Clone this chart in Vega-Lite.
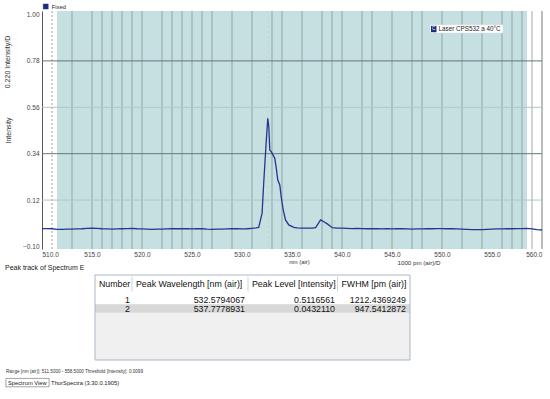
{
  "$schema": "https://vega.github.io/schema/vega-lite/v6.json",
  "width": 500,
  "height": 238,
  "autosize": {"type": "none"},
  "padding": {"left": 42, "top": 11, "right": 8, "bottom": 150},
  "background": "#ffffff",
  "config": {"view": {"stroke": null}, "font": "Liberation Sans"},
  "datasets": {
    "spectrum": [
      {"nm": 510.0, "i": -0.015}, {"nm": 510.5, "i": -0.015}, {"nm": 511.0, "i": -0.016}, {"nm": 511.5, "i": -0.019},
      {"nm": 512.0, "i": -0.019}, {"nm": 512.5, "i": -0.018}, {"nm": 513.0, "i": -0.018}, {"nm": 513.5, "i": -0.017},
      {"nm": 514.0, "i": -0.016}, {"nm": 514.5, "i": -0.014}, {"nm": 515.0, "i": -0.013}, {"nm": 515.5, "i": -0.014},
      {"nm": 516.0, "i": -0.016}, {"nm": 516.5, "i": -0.017}, {"nm": 517.0, "i": -0.018}, {"nm": 517.5, "i": -0.017},
      {"nm": 518.0, "i": -0.016}, {"nm": 518.5, "i": -0.015}, {"nm": 519.0, "i": -0.014}, {"nm": 519.5, "i": -0.016},
      {"nm": 520.0, "i": -0.017}, {"nm": 520.5, "i": -0.018}, {"nm": 521.0, "i": -0.019}, {"nm": 521.5, "i": -0.018},
      {"nm": 522.0, "i": -0.018}, {"nm": 522.5, "i": -0.017}, {"nm": 523.0, "i": -0.016}, {"nm": 523.5, "i": -0.016},
      {"nm": 524.0, "i": -0.015}, {"nm": 524.5, "i": -0.016}, {"nm": 525.0, "i": -0.017}, {"nm": 525.5, "i": -0.016},
      {"nm": 526.0, "i": -0.016}, {"nm": 526.5, "i": -0.018}, {"nm": 527.0, "i": -0.019}, {"nm": 527.5, "i": -0.018},
      {"nm": 528.0, "i": -0.018}, {"nm": 528.5, "i": -0.017}, {"nm": 529.0, "i": -0.016}, {"nm": 529.5, "i": -0.016},
      {"nm": 530.0, "i": -0.017}, {"nm": 530.5, "i": -0.016}, {"nm": 531.0, "i": -0.014}, {"nm": 531.4, "i": -0.012},
      {"nm": 531.67, "i": -0.010}, {"nm": 532.01, "i": 0.058}, {"nm": 532.17, "i": 0.200}, {"nm": 532.41, "i": 0.389},
      {"nm": 532.58, "i": 0.508}, {"nm": 532.68, "i": 0.468}, {"nm": 532.78, "i": 0.358}, {"nm": 532.92, "i": 0.350},
      {"nm": 533.19, "i": 0.326}, {"nm": 533.28, "i": 0.318}, {"nm": 533.45, "i": 0.263}, {"nm": 533.58, "i": 0.215},
      {"nm": 533.78, "i": 0.192}, {"nm": 533.92, "i": 0.136}, {"nm": 534.12, "i": 0.073}, {"nm": 534.35, "i": 0.026},
      {"nm": 534.68, "i": 0.002}, {"nm": 535.18, "i": -0.009}, {"nm": 535.5, "i": -0.012}, {"nm": 536.0, "i": -0.013},
      {"nm": 536.5, "i": -0.013}, {"nm": 537.0, "i": -0.013}, {"nm": 537.36, "i": -0.011}, {"nm": 537.86, "i": 0.026},
      {"nm": 538.19, "i": 0.017}, {"nm": 538.53, "i": 0.007}, {"nm": 539.03, "i": -0.011}, {"nm": 539.5, "i": -0.013},
      {"nm": 540.0, "i": -0.013}, {"nm": 540.5, "i": -0.014}, {"nm": 541.0, "i": -0.015}, {"nm": 541.5, "i": -0.014},
      {"nm": 542.0, "i": -0.015}, {"nm": 542.5, "i": -0.016}, {"nm": 543.0, "i": -0.015}, {"nm": 543.5, "i": -0.016},
      {"nm": 544.0, "i": -0.017}, {"nm": 544.5, "i": -0.016}, {"nm": 545.0, "i": -0.017}, {"nm": 545.5, "i": -0.016},
      {"nm": 546.0, "i": -0.016}, {"nm": 546.5, "i": -0.017}, {"nm": 547.0, "i": -0.018}, {"nm": 547.5, "i": -0.017},
      {"nm": 548.0, "i": -0.017}, {"nm": 548.5, "i": -0.016}, {"nm": 549.0, "i": -0.016}, {"nm": 549.5, "i": -0.015},
      {"nm": 550.0, "i": -0.015}, {"nm": 550.5, "i": -0.016}, {"nm": 551.0, "i": -0.016}, {"nm": 551.5, "i": -0.017},
      {"nm": 552.0, "i": -0.018}, {"nm": 552.5, "i": -0.019}, {"nm": 553.0, "i": -0.020}, {"nm": 553.5, "i": -0.020},
      {"nm": 554.0, "i": -0.020}, {"nm": 554.5, "i": -0.019}, {"nm": 555.0, "i": -0.018}, {"nm": 555.5, "i": -0.017},
      {"nm": 556.0, "i": -0.017}, {"nm": 556.5, "i": -0.016}, {"nm": 557.0, "i": -0.016}, {"nm": 557.5, "i": -0.015},
      {"nm": 558.0, "i": -0.015}, {"nm": 558.5, "i": -0.014}, {"nm": 559.0, "i": -0.017}, {"nm": 559.5, "i": -0.020},
      {"nm": 560.0, "i": -0.022}
    ],
    "grid": [
      {"nm": 513}, {"nm": 515}, {"nm": 516}, {"nm": 517}, {"nm": 518}, {"nm": 519}, {"nm": 520}, {"nm": 522},
      {"nm": 523}, {"nm": 524}, {"nm": 525}, {"nm": 526}, {"nm": 527}, {"nm": 529}, {"nm": 531}, {"nm": 533},
      {"nm": 534}, {"nm": 536}, {"nm": 538}, {"nm": 539}, {"nm": 540}, {"nm": 542}, {"nm": 543}, {"nm": 545},
      {"nm": 547}, {"nm": 548}, {"nm": 550}, {"nm": 552}, {"nm": 554}, {"nm": 556}, {"nm": 557}, {"nm": 558}
    ],
    "hmajor": [{"i": 0.78}, {"i": 0.34}],
    "hminor": [{"i": 0.56}, {"i": 0.12}],
    "head": [
      {"c": 0, "t": "Number"},
      {"c": 1, "t": "Peak Wavelength [nm (air)]"},
      {"c": 2, "t": "Peak Level [Intensity]"},
      {"c": 3, "t": "FWHM [pm (air)]"}
    ],
    "cells": [
      {"r": 1, "c": 0, "t": "1"}, {"r": 1, "c": 1, "t": "532.5794067"}, {"r": 1, "c": 2, "t": "0.5116561"}, {"r": 1, "c": 3, "t": "1212.4369249"},
      {"r": 2, "c": 0, "t": "2"}, {"r": 2, "c": 1, "t": "537.7778931"}, {"r": 2, "c": 2, "t": "0.0432110"}, {"r": 2, "c": 3, "t": "947.5412872"}
    ]
  },
  "layer": [
    {
      "layer": [
        {
          "data": {"values": [{"from": 511.5, "to": 558.5}]},
          "mark": {"type": "rect", "fill": "#c6dfe1"},
          "encoding": {"x": {"field": "from", "type": "quantitative"}, "x2": {"field": "to"}}
        },
        {
          "data": {"name": "grid"},
          "mark": {"type": "rule", "stroke": "#8ca6a7", "strokeWidth": 1},
          "encoding": {"x": {"field": "nm", "type": "quantitative"}}
        },
        {
          "data": {"values": [{"nm": 511}]},
          "mark": {"type": "rule", "stroke": "#9a9a9a", "strokeDash": [2, 2]},
          "encoding": {"x": {"field": "nm", "type": "quantitative"}}
        },
        {
          "data": {"values": [{"nm": 559}]},
          "mark": {"type": "rule", "stroke": "#a8a8a8"},
          "encoding": {"x": {"field": "nm", "type": "quantitative"}}
        },
        {
          "data": {"values": [{"nm": 560}]},
          "mark": {"type": "rule", "stroke": "#7a7a7a"},
          "encoding": {"x": {"field": "nm", "type": "quantitative"}}
        },
        {
          "data": {"name": "hminor"},
          "mark": {"type": "rule", "stroke": "#aec6c7"},
          "encoding": {"y": {"field": "i", "type": "quantitative"}}
        },
        {
          "data": {"name": "hmajor"},
          "mark": {"type": "rule", "stroke": "#62797b"},
          "encoding": {"y": {"field": "i", "type": "quantitative"}}
        },
        {
          "data": {"values": [{"nm": 532.5794067}]},
          "mark": {"type": "rule", "stroke": "#b7dcb7", "strokeDash": [2, 3], "opacity": 0.8},
          "encoding": {"x": {"field": "nm", "type": "quantitative"}}
        },
        {
          "data": {"name": "spectrum"},
          "mark": {"type": "line", "strokeWidth": 1.3, "interpolate": "linear"},
          "encoding": {
            "x": {
              "field": "nm", "type": "quantitative",
              "scale": {"domain": [510, 560], "nice": false, "zero": false},
              "axis": {
                "values": [510, 515, 520, 525, 530, 535, 540, 545, 550, 555, 560],
                "format": ".1f", "labelFlush": true, "labelOverlap": false,
                "labelFontSize": 6.5, "labelColor": "#444", "labelPadding": 2,
                "ticks": false, "domain": false, "grid": false,
                "title": "nm (air)", "titleFontSize": 6, "titleFontWeight": "normal",
                "titleColor": "#333", "titleX": 257, "titleY": 9
              }
            },
            "y": {
              "field": "i", "type": "quantitative",
              "scale": {"domain": [-0.112, 1.0166], "nice": false, "zero": false},
              "axis": {
                "values": [-0.1, 0.12, 0.34, 0.56, 0.78, 1.0],
                "format": ".2f", "labelOverlap": false,
                "labelFontSize": 6.5, "labelColor": "#444", "labelPadding": 3,
                "ticks": false, "grid": false, "domain": true, "domainColor": "#555",
                "title": "Intensity", "titleFontSize": 7, "titleFontWeight": "normal",
                "titleColor": "#333", "titleX": -34, "titleBaseline": "middle"
              }
            },
            "color": {
              "datum": "Fixed", "type": "nominal",
              "scale": {"range": ["#23378f"]},
              "legend": {
                "orient": "none", "legendX": 0.7, "legendY": -7.5, "title": null,
                "symbolType": "square", "symbolSize": 25, "labelFontSize": 5.8,
                "labelColor": "#222", "labelOffset": 3, "padding": 0, "rowPadding": 0,
                "symbolFillColor": "#1c2a80", "symbolStrokeColor": "#1c2a80",
                "encode": {"symbols": {"update": {"fill": {"value": "#1c2a80"}, "stroke": {"value": "#1c2a80"}, "strokeWidth": {"value": 0.5}}}}
              }
            }
          }
        },
        {
          "data": {"values": [{"label": "Laser CPS532 a 40°C"}]},
          "mark": {"type": "rect", "fill": "#ffffff", "stroke": "#d4d4d4", "strokeWidth": 0.5},
          "encoding": {
            "x": {"datum": 548.8, "type": "quantitative"}, "x2": {"datum": 556.1},
            "y": {"datum": 0.951, "type": "quantitative"}, "y2": {"datum": 0.912}
          }
        },
        {
          "data": {"values": [{"label": "C"}]},
          "mark": {"type": "rect", "fill": "#1c2a80"},
          "encoding": {
            "x": {"datum": 548.9, "type": "quantitative"}, "x2": {"datum": 549.45},
            "y": {"datum": 0.946, "type": "quantitative"}, "y2": {"datum": 0.916}
          }
        },
        {
          "data": {"values": [{"label": "C"}]},
          "mark": {"type": "text", "fontSize": 4.5, "fill": "#ffffff", "align": "center", "baseline": "middle"},
          "encoding": {
            "x": {"datum": 549.17, "type": "quantitative"},
            "y": {"datum": 0.931, "type": "quantitative"},
            "text": {"field": "label"}
          }
        },
        {
          "data": {"values": [{"label": "Laser CPS532 a 40°C"}]},
          "mark": {"type": "text", "fontSize": 6.3, "fill": "#222", "align": "left", "baseline": "middle"},
          "encoding": {
            "x": {"datum": 549.65, "type": "quantitative"},
            "y": {"datum": 0.931, "type": "quantitative"},
            "text": {"field": "label"}
          }
        },
        {
          "data": {"values": [{"label": "0.220 Intensity/D"}]},
          "mark": {"type": "text", "fontSize": 7, "fill": "#333", "align": "center", "baseline": "middle", "angle": 270, "dy": -34},
          "encoding": {
            "x": {"datum": 510, "type": "quantitative"},
            "y": {"datum": 0.775, "type": "quantitative"},
            "text": {"field": "label"}
          }
        },
        {
          "data": {"values": [{"label": "1000 pm (air)/D"}]},
          "mark": {"type": "text", "fontSize": 6.2, "fill": "#333", "align": "center", "baseline": "middle", "dy": 14},
          "encoding": {
            "x": {"datum": 547.7, "type": "quantitative"},
            "y": {"datum": -0.112, "type": "quantitative"},
            "text": {"field": "label"}
          }
        }
      ]
    },
    {
      "layer": [
        {
          "data": {"values": [{"part": "table"}]},
          "mark": {"type": "rect", "fill": "#f0f0f0"},
          "encoding": {
            "x": {"datum": 0, "type": "quantitative", "scale": {"domain": [-1, 0, 1, 2, 3, 4], "range": [-37, 53, 90, 206, 295.5, 368], "nice": false, "zero": false}, "axis": null},
            "x2": {"datum": 4},
            "y": {"datum": 0, "type": "quantitative", "scale": {"domain": [-1, 0, 1, 2, 3, 4, 5, 6], "range": [257, 264, 285, 293.3, 301.7, 349, 361.3, 371.5], "nice": false, "zero": false}, "axis": null},
            "y2": {"datum": 4}
          }
        },
        {
          "data": {"values": [{"part": "header and row 1"}]},
          "mark": {"type": "rect", "fill": "#ffffff"},
          "encoding": {
            "x": {"datum": 0, "type": "quantitative"}, "x2": {"datum": 4},
            "y": {"datum": 0, "type": "quantitative"}, "y2": {"datum": 2}
          }
        },
        {
          "data": {"values": [{"part": "row 2"}]},
          "mark": {"type": "rect", "fill": "#d8d8d8"},
          "encoding": {
            "x": {"datum": 0, "type": "quantitative"}, "x2": {"datum": 4},
            "y": {"datum": 2, "type": "quantitative"}, "y2": {"datum": 3}
          }
        },
        {
          "data": {"values": [{"b": 1}, {"b": 2}, {"b": 3}]},
          "mark": {"type": "rule", "stroke": "#cdd4da"},
          "encoding": {
            "x": {"field": "b", "type": "quantitative"},
            "y": {"datum": 0.08, "type": "quantitative"}, "y2": {"datum": 0.78}
          }
        },
        {
          "data": {"values": [{"part": "border"}]},
          "mark": {"type": "rect", "fill": null, "stroke": "#a9b8c5", "strokeWidth": 1},
          "encoding": {
            "x": {"datum": 0, "type": "quantitative"}, "x2": {"datum": 4},
            "y": {"datum": 0, "type": "quantitative"}, "y2": {"datum": 4}
          }
        },
        {
          "data": {"name": "head"},
          "mark": {"type": "text", "fontSize": 8.8, "fill": "#111", "align": "left", "baseline": "middle", "dx": 4},
          "encoding": {
            "x": {"field": "c", "type": "quantitative"},
            "y": {"datum": 0.45, "type": "quantitative"},
            "text": {"field": "t"}
          }
        },
        {
          "data": {"values": [{"t": "Peak track of Spectrum E"}]},
          "mark": {"type": "text", "fontSize": 7, "fill": "#222", "align": "left", "baseline": "middle"},
          "encoding": {
            "x": {"datum": -1, "type": "quantitative"},
            "y": {"datum": -1, "type": "quantitative"},
            "text": {"field": "t"}
          }
        },
        {
          "data": {"values": [{"t": "Range [nm (air)]: 511.5000 - 558.5000  Threshold [Intensity]: 0.0099"}]},
          "mark": {"type": "text", "fontSize": 4.6, "fill": "#333", "align": "left", "baseline": "middle", "dx": 1},
          "encoding": {
            "x": {"datum": -1, "type": "quantitative"},
            "y": {"datum": 5, "type": "quantitative"},
            "text": {"field": "t"}
          }
        },
        {
          "data": {"values": [{"t": "Spectrum View"}]},
          "mark": {"type": "rect", "fill": null, "stroke": "#8a8a8a", "strokeWidth": 0.8},
          "encoding": {
            "x": {"datum": -0.99, "type": "quantitative"}, "x2": {"datum": -0.51},
            "y": {"datum": 5.6, "type": "quantitative"}, "y2": {"datum": 6.42}
          }
        },
        {
          "data": {"values": [{"t": "Spectrum View"}]},
          "mark": {"type": "text", "fontSize": 5.8, "fill": "#222", "align": "left", "baseline": "middle", "dx": 2},
          "encoding": {
            "x": {"datum": -0.99, "type": "quantitative"},
            "y": {"datum": 6, "type": "quantitative"},
            "text": {"field": "t"}
          }
        },
        {
          "data": {"values": [{"t": "ThorSpectra (3.30.0.1905)"}]},
          "mark": {"type": "text", "fontSize": 5.8, "fill": "#222", "align": "left", "baseline": "middle", "dx": 2},
          "encoding": {
            "x": {"datum": -0.51, "type": "quantitative"},
            "y": {"datum": 6, "type": "quantitative"},
            "text": {"field": "t"}
          }
        }
      ]
    },
    {
      "data": {"name": "cells"},
      "mark": {"type": "text", "fontSize": 8.8, "fill": "#111", "align": "right", "baseline": "middle"},
      "encoding": {
        "x": {"field": "c", "type": "quantitative", "scale": {"domain": [0, 1, 2, 3], "range": [88, 203, 293, 364], "nice": false, "zero": false}, "axis": null},
        "y": {"field": "r", "type": "quantitative", "scale": {"domain": [1, 2], "range": [288.8, 297.5], "nice": false, "zero": false}, "axis": null},
        "text": {"field": "t"}
      }
    }
  ],
  "resolve": {"scale": {"x": "independent", "y": "independent"}}
}
